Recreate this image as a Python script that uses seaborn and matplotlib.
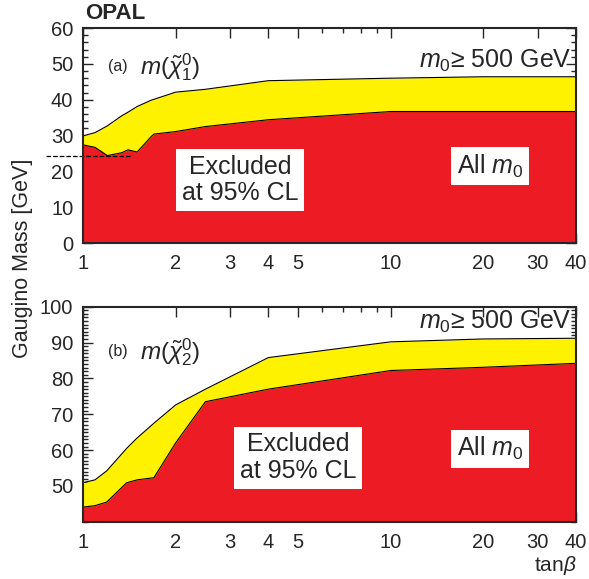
import matplotlib
matplotlib.use("Agg")
import matplotlib.pyplot as plt
import numpy as np
import pandas as pd
import seaborn as sns
from matplotlib.ticker import FixedLocator, NullFormatter

# --------------------------------------------------------------------------
# Data
# --------------------------------------------------------------------------
# (a) lightest neutralino
tanb_a = [1.0, 1.094, 1.2, 1.336, 1.40, 1.50, 1.67, 1.70, 2.0, 2.5, 4.0, 10.0, 20.0, 40.0]
m0_500_a = [29.9, 30.8, 32.7, 35.5, 36.5, 38.1, 39.9, 40.1, 42.1, 42.9, 45.3, 46.0, 46.4, 46.4]
all_m0_a = [27.4, 26.7, 24.4, 25.2, 26.0, 25.4, 29.8, 30.4, 31.1, 32.5, 34.4, 36.7, 36.7, 36.7]
lep1_limit = 24.3
lep1_tanb = [0.76, 1.44]

# (b) second neutralino
tanb_b = [1.0, 1.094, 1.194, 1.387, 1.50, 1.70, 2.0, 2.5, 4.0, 10.0, 20.0, 40.0]
m0_500_b = [50.9, 51.7, 54.2, 60.5, 63.4, 67.5, 72.6, 77.0, 85.8, 90.2, 91.0, 91.2]
all_m0_b = [44.1, 44.5, 45.5, 50.9, 51.7, 52.3, 62.0, 73.5, 77.0, 82.2, 83.1, 84.2]

xticks = [1, 2, 3, 4, 5, 10, 20, 30, 40]
xminor = [6, 7, 8, 9]

RED = "#ED1C24"
YELLOW = "#FFF200"

sns.set_style("ticks")
plt.rcParams["font.family"] = ["Liberation Sans", "DejaVu Sans"]
plt.rcParams["mathtext.fontset"] = "custom"
plt.rcParams["mathtext.rm"] = "Liberation Sans"
plt.rcParams["mathtext.it"] = "Liberation Sans:italic"
plt.rcParams["mathtext.bf"] = "Liberation Sans:bold"

fig = plt.figure(figsize=(5.89, 5.79), dpi=100)
ax_a = fig.add_axes([0.1409, 0.5803, 0.8371, 0.3713])
ax_b = fig.add_axes([0.1409, 0.0988, 0.8371, 0.3715])

box = dict(facecolor="white", edgecolor="none", pad=4)


def draw_panel(ax, tanb, upper, lower, ylo, yhi, label, ymajor, yminor,
               label_y, m0_y, excl_xy, all_y):
    df = pd.DataFrame({"tanb": tanb, "upper": upper, "lower": lower})
    ax.fill_between(df["tanb"], ylo, df["upper"], color=YELLOW, lw=0)
    ax.fill_between(df["tanb"], ylo, df["lower"], color=RED, lw=0)
    sns.lineplot(data=df, x="tanb", y="upper", ax=ax, color="black", lw=0.8)
    sns.lineplot(data=df, x="tanb", y="lower", ax=ax, color="black", lw=0.8)
    ax.set_xscale("log")
    ax.set_xlim(1, 40)
    ax.set_ylim(ylo, yhi)
    ax.xaxis.set_major_locator(FixedLocator(xticks))
    ax.xaxis.set_minor_locator(FixedLocator(xminor))
    ax.set_xticklabels([str(t) for t in xticks])
    ax.xaxis.set_minor_formatter(NullFormatter())
    ax.yaxis.set_major_locator(FixedLocator(ymajor))
    ax.yaxis.set_minor_locator(FixedLocator(yminor))
    ax.set_yticklabels([str(v) for v in ymajor])
    ax.tick_params(which="both", direction="in", top=True, right=True,
                   labelsize=14.5, width=1)
    ax.tick_params(which="major", length=7)
    ax.tick_params(axis="x", which="major", pad=8)
    ax.tick_params(axis="y", which="major", pad=7)
    ax.tick_params(which="minor", length=3.5)
    for s in ax.spines.values():
        s.set_visible(True)
        s.set_linewidth(1.5)
    ax.set_xlabel("")
    ax.set_ylabel("")
    ax.text(0.05, label_y, label[0], transform=ax.transAxes, fontsize=11.5,
            va="center")
    ax.text(0.115, label_y, label[1], transform=ax.transAxes, fontsize=17.5,
            va="center")
    ax.text(0.99, m0_y, r"$m_0$" + "\u2265 500 GeV", transform=ax.transAxes,
            fontsize=18, ha="right", va="center")
    ax.text(excl_xy[0], excl_xy[1], "Excluded\nat 95% CL", transform=ax.transAxes,
            fontsize=18, ha="center", va="center", bbox=box, linespacing=1.15)
    ax.text(0.826, all_y, r"All $m_0$", transform=ax.transAxes,
            fontsize=18, ha="center", va="center", bbox=box)


draw_panel(ax_a, tanb_a, m0_500_a, all_m0_a, 0, 60, ("(a)", r"$m(\tilde{\chi}_1^0)$"),
           list(range(0, 61, 10)), np.arange(0, 61, 2),
           0.82, 0.845, (0.318, 0.293), 0.358)
draw_panel(ax_b, tanb_b, m0_500_b, all_m0_b, 40, 100, ("(b)", r"$m(\tilde{\chi}_2^0)$"),
           list(range(50, 101, 10)), np.arange(40, 101, 1),
           0.79, 0.93, (0.436, 0.297), 0.34)

# LEP1 dashed limit, running past the left axis
ax_a.plot(lep1_tanb, [lep1_limit, lep1_limit], ls="--", color="black",
          lw=0.9, clip_on=False)

fig.text(0.145, 0.995, "OPAL", fontsize=16, fontweight="bold", va="top")
fig.text(0.039, 0.5535, "Gaugino Mass [GeV]", rotation=90, fontsize=15.5,
         ha="center", va="center")
fig.text(0.942, 0.024, r"tan$\beta$", fontsize=15, ha="center", va="center")

fig.savefig("out.png", dpi=100)
